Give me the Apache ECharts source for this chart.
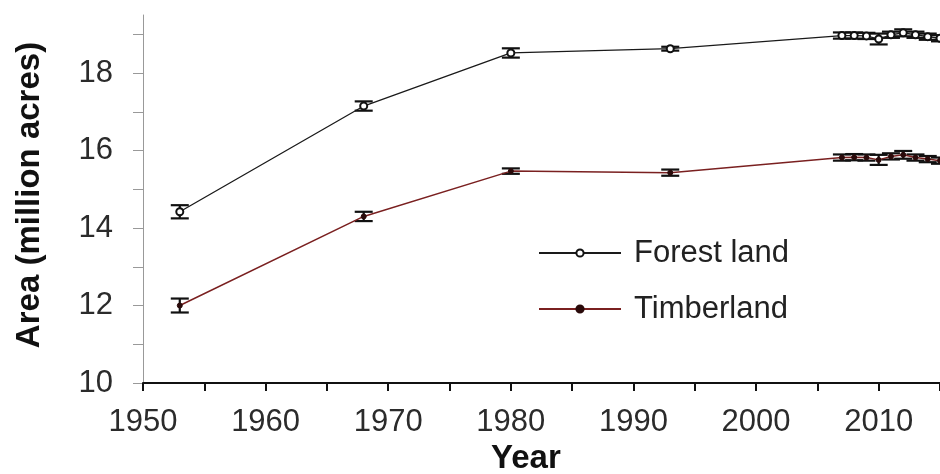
<!DOCTYPE html>
<html>
<head>
<meta charset="utf-8">
<script src="https://cdn.jsdelivr.net/npm/echarts@6/dist/echarts.min.js"></script>
<style>
html,body{margin:0;padding:0;background:#fff;}
#chart{width:940px;height:474px;}
</style>
</head>
<body>
<div id="chart"></div>
<script>
var years = [1953, 1968, 1980, 1993, 2007, 2008, 2009, 2010, 2011, 2012, 2013, 2014, 2015];
var forestLand = [14.42, 17.15, 18.52, 18.63, 18.97, 18.97, 18.96, 18.88, 18.99, 19.04, 18.99, 18.94, 18.9];
var timberland = [12.0, 14.3, 15.47, 15.43, 15.82, 15.83, 15.82, 15.76, 15.85, 15.89, 15.82, 15.78, 15.74];
var forestErr = [0.17, 0.12, 0.12, 0.05, 0.08, 0.08, 0.08, 0.14, 0.08, 0.09, 0.08, 0.08, 0.08];
var timberErr = [0.18, 0.12, 0.07, 0.08, 0.08, 0.08, 0.08, 0.13, 0.08, 0.1, 0.08, 0.08, 0.08];
var xTickLabels = [1950, 1960, 1970, 1980, 1990, 2000, 2010];
var xTicks = [1950, 1955, 1960, 1965, 1970, 1975, 1980, 1985, 1990, 1995, 2000, 2005, 2010, 2015];
var yTickLabels = [10, 12, 14, 16, 18];
var yTicks = [10, 11, 12, 13, 14, 15, 16, 17, 18, 19];
var seriesNames = ['Forest land', 'Timberland'];

function pairs(xs, ys) { return xs.map(function (x, i) { return [x, ys[i]]; }); }
function triples(xs, ys, es) { return xs.map(function (x, i) { return [x, ys[i], es[i]]; }); }

function errRender(params, api) {
  var x = api.value(0), y = api.value(1), e = api.value(2);
  var lo = api.coord([x, y - e]);
  var hi = api.coord([x, y + e]);
  var w = 9;
  var st = { stroke: '#111', lineWidth: 2.2 };
  return {
    type: 'group',
    children: [
      { type: 'line', shape: { x1: lo[0], y1: lo[1], x2: hi[0], y2: hi[1] }, style: st },
      { type: 'line', shape: { x1: lo[0] - w, y1: lo[1], x2: lo[0] + w, y2: lo[1] }, style: st },
      { type: 'line', shape: { x1: hi[0] - w, y1: hi[1], x2: hi[0] + w, y2: hi[1] }, style: st }
    ]
  };
}

var chart = echarts.init(document.getElementById('chart'), null, { renderer: 'canvas' });
var font = 'Liberation Sans, Arial, sans-serif';
chart.setOption({
  animation: false,
  backgroundColor: '#fff',
  grid: { left: 143, right: 0, top: 15, bottom: 91, containLabel: false },
  legend: {
    orient: 'vertical',
    left: 533,
    top: 232,
    itemWidth: 82,
    itemHeight: 9,
    itemGap: 24,
    data: seriesNames,
    textStyle: { fontFamily: font, fontSize: 31, color: '#222', lineHeight: 32, padding: [0, 0, 0, 8] }
  },
  xAxis: {
    type: 'value',
    min: 1950,
    max: 2015,
    splitLine: { show: false },
    axisLine: { show: true, lineStyle: { color: '#111', width: 2 } },
    axisTick: { show: true, inside: false, length: 8, customValues: xTicks, lineStyle: { color: '#111', width: 2 } },
    axisLabel: { customValues: xTickLabels, margin: 24, fontFamily: font, fontSize: 31, color: '#2b2b2b',
      formatter: function (v) { return String(v); } }
  },
  yAxis: {
    type: 'value',
    min: 10,
    max: 19.5,
    splitLine: { show: false },
    axisLine: { show: true, lineStyle: { color: '#999', width: 1 } },
    axisTick: { show: true, inside: false, length: 10, customValues: yTicks, lineStyle: { color: '#999', width: 1 } },
    axisLabel: { customValues: yTickLabels, margin: 30, fontFamily: font, fontSize: 31, color: '#2b2b2b',
      formatter: function (v) { return String(v); } }
  },
  graphic: [
    { type: 'text', left: 527 - 36, top: 442, style: { text: 'Year', font: 'bold 33px ' + font, fill: '#111' } },
    { type: 'text', x: 30, y: 195, rotation: Math.PI / 2,
      style: { text: 'Area (million acres)', font: 'bold 33px ' + font, fill: '#111', align: 'center', verticalAlign: 'middle' } }
  ],
  series: [
    { type: 'custom', name: 'fe', renderItem: errRender, data: triples(years, forestLand, forestErr), z: 3, silent: true },
    { type: 'custom', name: 'te', renderItem: errRender, data: triples(years, timberland, timberErr), z: 3, silent: true },
    {
      type: 'line', name: seriesNames[0], data: pairs(years, forestLand), z: 4,
      symbol: 'circle', symbolSize: 7, showAllSymbol: true,
      lineStyle: { color: '#1a1a1a', width: 1.3 },
      itemStyle: { color: '#fff', borderColor: '#111', borderWidth: 2 }
    },
    {
      type: 'line', name: seriesNames[1], data: pairs(years, timberland), z: 4,
      symbol: 'circle', symbolSize: 5, showAllSymbol: true,
      lineStyle: { color: '#7a2020', width: 1.5 },
      itemStyle: { color: '#2a0a0a', borderColor: '#2a0a0a', borderWidth: 1 }
    }
  ]
});
</script>
</body>
</html>
